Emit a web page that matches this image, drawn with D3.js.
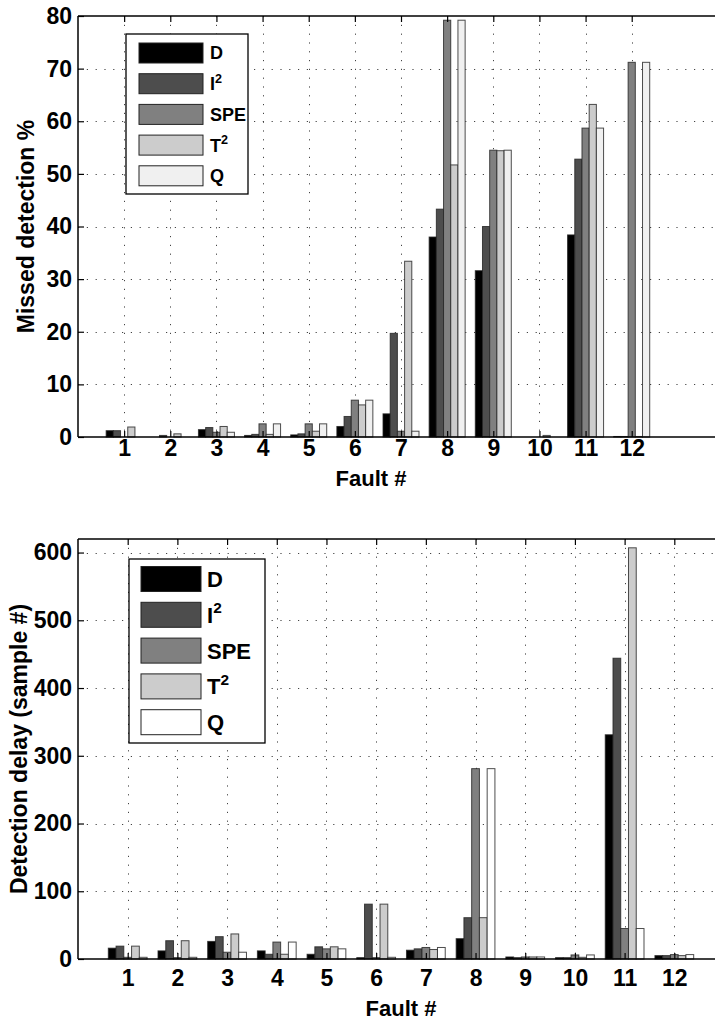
<!DOCTYPE html>
<html><head><meta charset="utf-8">
<script src="https://cdn.jsdelivr.net/npm/d3@7"></script>
<style>
body{margin:0;background:#fff;}
svg{display:block;}
text{font-family:"Liberation Sans",Arial,sans-serif;font-weight:bold;fill:#000;}
</style></head>
<body>
<svg id="chart" width="715" height="1021"></svg>
<script>
const faults = [1,2,3,4,5,6,7,8,9,10,11,12];
const seriesKeys = ["D","I2","SPE","T2","Q"];

const missedD   = [1.2, 0,   1.4, 0.3, 0.4, 2.0, 4.4, 38.0, 31.6, 0,   38.4, 0.1];
const missedI2  = [1.2, 0.3, 1.8, 0.5, 0.6, 3.9, 19.7,43.3, 40.0, 0,   52.8, 0.1];
const missedSPE = [0,   0,   0.9, 2.5, 2.5, 7.0, 1.1, 79.2, 54.5, 0,   58.7, 71.2];
const missedT2  = [1.9, 0.6, 2.0, 0.5, 1.1, 6.1, 33.4,51.7, 54.4, 0.3, 63.2, 0.1];
const missedQ   = [0,   0,   0.9, 2.5, 2.5, 7.0, 1.1, 79.2, 54.5, 0,   58.7, 71.2];

const delayD   = [16,  12,  26, 12, 7,  2,   13, 30,  3, 2,   331, 5];
const delayI2  = [19,  27,  33, 7,  18, 81,  15, 61,  2, 2,   444, 5];
const delaySPE = [2.5, 2,   10, 25, 15, 2,   17, 281, 3, 6,   45,  6.5];
const delayT2  = [19,  27,  37, 7,  18, 81,  14, 61,  3, 2.5, 607, 5];
const delayQ   = [2.5, 2.5, 10, 25, 15, 2.5, 17, 281, 3, 6,   45,  6.5];

const missedTicks = [0,10,20,30,40,50,60,70,80];
const delayTicks = [0,100,200,300,400,500,600];

const svg = d3.select("#chart");

function drawPanel(cfg){
  const g = svg.append("g");
  const x = d3.scaleLinear().domain(cfg.xDomain).range([78, 724]);
  const y = d3.scaleLinear().domain(cfg.yDomain).range([cfg.bottom, cfg.top]);
  const L = x.range()[0], R = x.range()[1], T = cfg.top, B = cfg.bottom;

  // grid
  const grid = g.append("g").attr("stroke","#444").attr("stroke-width",1).attr("stroke-dasharray","1.2,7.6");
  cfg.yTicks.filter(v=>v>cfg.yDomain[0] && v<cfg.yDomain[1]).forEach(v=>{
    grid.append("line").attr("x1",L).attr("x2",R).attr("y1",Math.round(y(v))+0.5).attr("y2",Math.round(y(v))+0.5);
  });
  faults.forEach(f=>{
    grid.append("line").attr("x1",Math.round(x(f))+0.5).attr("x2",Math.round(x(f))+0.5).attr("y1",T).attr("y2",B);
  });

  // bars
  const bw = 0.156;
  cfg.series.forEach((vals,si)=>{
    g.append("g").selectAll("rect").data(faults).enter().append("rect")
      .attr("x", (f)=> x(f + (si-2.5)*bw))
      .attr("width", x(bw)-x(0))
      .attr("y", (f,i)=> y(vals[i]))
      .attr("height", (f,i)=> y(0)-y(vals[i]))
      .attr("fill", cfg.colors[si])
      .attr("stroke","#222").attr("stroke-opacity",0.8).attr("stroke-width",1);
  });

  // axes box
  g.append("line").attr("x1",L).attr("x2",R).attr("y1",B).attr("y2",B).attr("stroke","#000").attr("stroke-width",1.5);
  g.append("line").attr("x1",L).attr("x2",R).attr("y1",T).attr("y2",T).attr("stroke","#000").attr("stroke-width",1.5);
  g.append("line").attr("x1",L).attr("x2",L).attr("y1",T).attr("y2",B).attr("stroke","#000").attr("stroke-width",1.5);

  const fnt = "Liberation Sans, Arial";
  const xAxisB = d3.axisBottom(x).tickValues(faults).tickSize(-6).tickPadding(cfg.xPad).tickFormat(d3.format("d"));
  const xa = g.append("g").attr("transform",`translate(0,${B})`).call(xAxisB);
  xa.select(".domain").remove();
  xa.selectAll("line").attr("stroke","#000").attr("stroke-width",1.2);
  xa.selectAll("text").attr("font-size",cfg.fs).attr("font-family",fnt).attr("font-weight","bold").attr("fill","#000");
  const xAxisT = d3.axisTop(x).tickValues(faults).tickSize(-6).tickFormat("");
  const xt = g.append("g").attr("transform",`translate(0,${T})`).call(xAxisT);
  xt.select(".domain").remove();
  xt.selectAll("line").attr("stroke","#000").attr("stroke-width",1.2);

  const yAxis = d3.axisLeft(y).tickValues(cfg.yTicks).tickSize(-6).tickPadding(6).tickFormat(d3.format("d"));
  const ya = g.append("g").attr("transform",`translate(${L},0)`).call(yAxis);
  ya.select(".domain").remove();
  ya.selectAll("line").attr("stroke","#000").attr("stroke-width",1.2);
  ya.selectAll("text").attr("font-size",cfg.fs).attr("font-family",fnt).attr("font-weight","bold").attr("fill","#000");

  // labels
  g.append("text").attr("x",cfg.xLabelX).attr("y",cfg.xLabelY).attr("text-anchor","middle").attr("font-size",cfg.lfs).text("Fault #");
  g.append("text").attr("transform",`translate(${cfg.yLabelX},${(T+B)/2}) rotate(-90)`).attr("text-anchor","middle").attr("font-size",cfg.fs).text(cfg.yLabel);

  // legend
  const lg = cfg.legend;
  g.append("rect").attr("x",lg.x).attr("y",lg.y).attr("width",lg.w).attr("height",lg.h).attr("fill","#fff").attr("stroke","#000").attr("stroke-width",1.3);
  const labels = [["D",""],["I","2"],["SPE",""],["T","2"],["Q",""]];
  labels.forEach((lb,i)=>{
    const yy = lg.y + lg.pad + i*lg.step;
    g.append("rect").attr("x",lg.x+lg.px).attr("y",yy).attr("width",lg.pw).attr("height",lg.ph)
      .attr("fill",cfg.colors[i]).attr("stroke","#222").attr("stroke-width",1);
    const t = g.append("text").attr("x",lg.x+lg.tx).attr("y",yy+lg.ph/2).attr("dy","0.36em").attr("font-size",lg.fs);
    t.append("tspan").text(lb[0]);
    if(lb[1]) t.append("tspan").attr("dy",-lg.fs*0.42).attr("font-size",lg.fs*0.7).text(lb[1]);
  });
}

drawPanel({
  xDomain:[0,14], yDomain:[0,80], top:16, bottom:437,
  yTicks: missedTicks,
  series:[missedD, missedI2, missedSPE, missedT2, missedQ],
  colors:["#000000","#4d4d4d","#808080","#cccccc","#f0f0f0"],
  fs:23, lfs:22, xPad:3, xLabelX:371, xLabelY:486, yLabelX:34, yLabel:"Missed detection %",
  legend:{x:126,y:34,w:122,h:160,pad:9,step:30.7,px:13,pw:64,ph:20,tx:84,fs:18}
});

drawPanel({
  xDomain:[0,13], yDomain:[0,620], top:539, bottom:959,
  yTicks: delayTicks,
  series:[delayD, delayI2, delaySPE, delayT2, delayQ],
  colors:["#000000","#4d4d4d","#808080","#cccccc","#ffffff"],
  fs:23, lfs:22, xPad:11, xLabelX:401, xLabelY:1016, yLabelX:27, yLabel:"Detection delay (sample #)",
  legend:{x:129,y:559,w:136,h:184,pad:7.5,step:35.8,px:12,pw:60,ph:25,tx:78,fs:22}
});
</script>
</body></html>
